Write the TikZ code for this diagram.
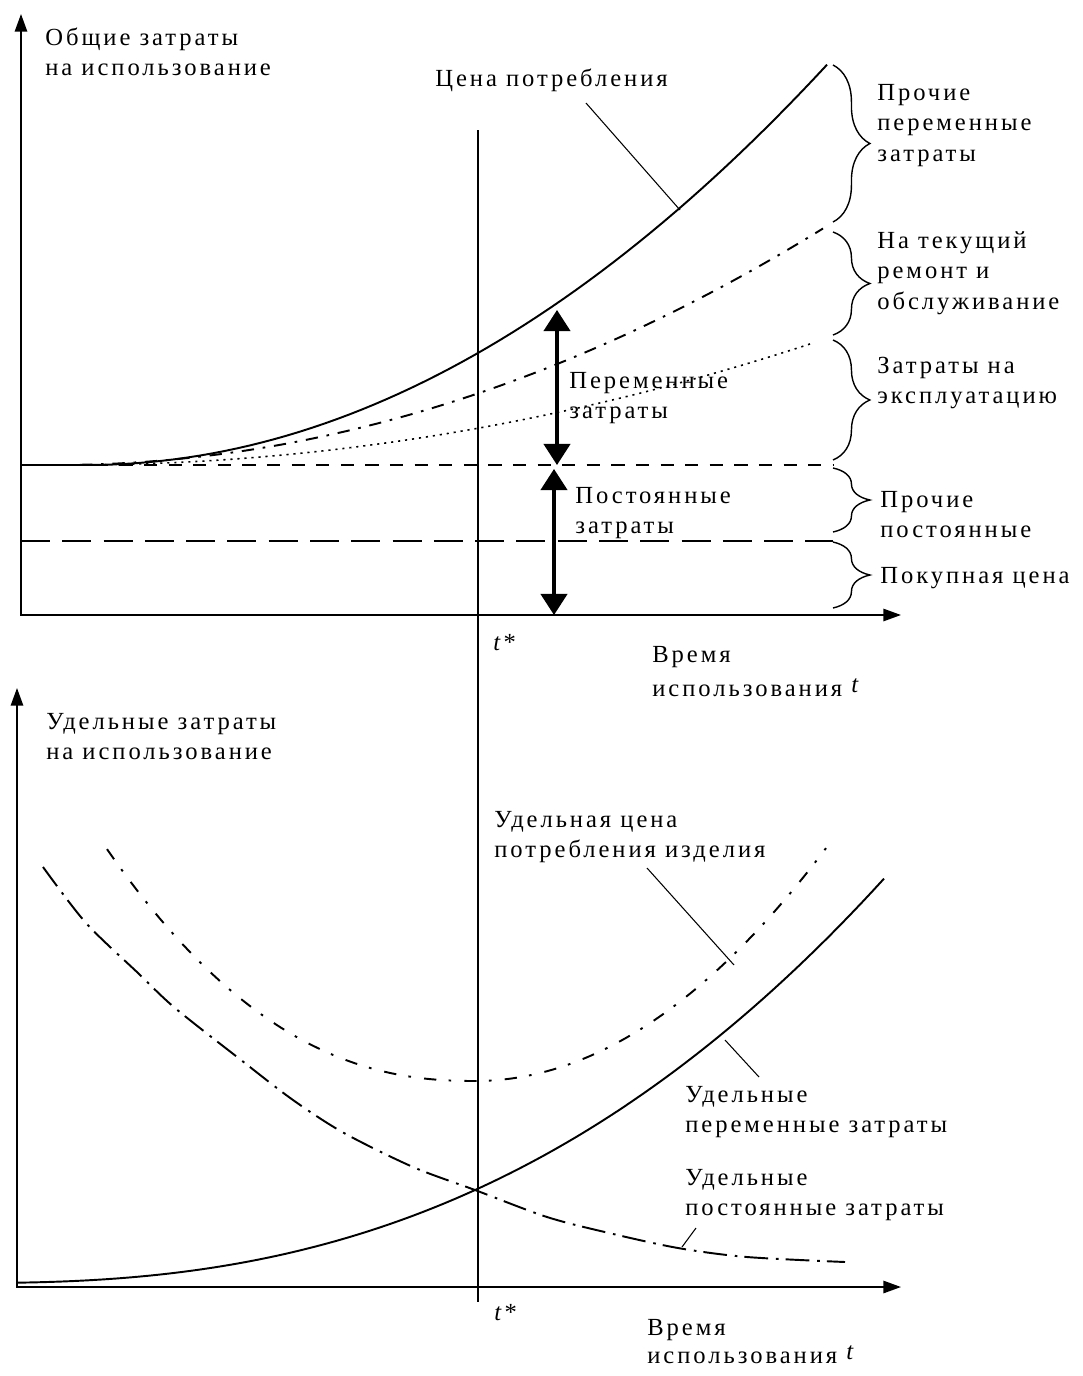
\documentclass[tikz,border=0pt]{standalone}
\usepackage{fontspec}
\setmainfont{Liberation Serif}
\newfontfamily\rusfont[LetterSpace=12]{Liberation Serif}
\usetikzlibrary{arrows.meta,decorations.pathreplacing}

\newcommand{\txtlines}[1]{\begin{tabular}[t]{@{}l@{}}#1\end{tabular}}

\tikzset{
  lbl/.style={font=\rusfont\fontsize{14}{17.6}\selectfont, anchor=base west, inner sep=0pt},
  axisline/.style={line width=1pt, {Triangle[length=10pt,width=7pt]}-{Triangle[length=10pt,width=7pt]}},
  tline/.style={line width=0.9pt},
  costcurve/.style={line width=1.1pt},
  shortdash/.style={line width=0.9pt, dash pattern=on 7.5pt off 6.5pt},
  longdash/.style={line width=0.9pt, dash pattern=on 16.5pt off 7pt},
  remontcurve/.style={line width=1.1pt, dash pattern=on 7pt off 5pt on 1.5pt off 5pt},
  eksplcurve/.style={line width=0.9pt, dash pattern=on 1.2pt off 2.8pt},
  udcenacurve/.style={line width=1.1pt, dash pattern=on 7pt off 7pt on 1.5pt off 7.5pt},
  udfixcurve/.style={line width=1.1pt, dash pattern=on 13.5pt off 4.5pt on 1.5pt off 4pt},
  leader/.style={line width=0.6pt},
  dblarrow/.style={line width=1.8pt, {Triangle[length=12pt,width=15pt]}-{Triangle[length=12pt,width=15pt]}},
  bracedec/.style={line width=0.8pt, decorate, decoration={brace, amplitude=21pt}}
}

\begin{document}
\begin{tikzpicture}[x=0.02cm, y=-0.02cm]
\useasboundingbox (0,0) rectangle (1082,1376);

% upper chart: total costs
\coordinate (Y1) at (21,14);
\coordinate (O1) at (21,615);
\coordinate (X1) at (901,615);
\draw[axisline] (Y1) |- (X1);

\coordinate (Ttop) at (478,130);
\coordinate (Tbot) at (478,1302);
\draw[tline] (Ttop) -- (Tbot);

\draw[shortdash] (21,465) -- (833,465);
\draw[longdash] (21,541) -- (833,541);

\draw[costcurve] (21,465) -- (86,465)
  -- plot[domain=86:827, samples=60] (\x, {465-7.29*((\x-86)/100)^2});
\draw[remontcurve] plot[domain=80:823, samples=60] (\x, {465-4.02*((\x-56)/100)^2});
\draw[eksplcurve] plot[domain=90:813, samples=60] (\x, {465-2.21*((\x-70)/100)^2});

\foreach \ya/\yb in {65/222, 232/335, 340/460, 468/532, 542/608}
  \draw[bracedec] (833,\ya) -- (833,\yb);

\coordinate (varTop) at (557,310);
\coordinate (varBot) at (557,465);
\coordinate (fixTop) at (554,469);
\coordinate (fixBot) at (554,615);
\draw[dblarrow] (varTop) -- (varBot);
\draw[dblarrow] (fixTop) -- (fixBot);

\node[lbl] (ylab1) at (45,45) {\txtlines{Общие затраты\\на использование}};
\node[lbl] (cena) at (435,86) {Цена потребления};
\coordinate (cenaLead) at (586,103);
\coordinate (cenaPt) at (680,210);
\draw[leader] (cenaLead) -- (cenaPt);

\node[lbl] (prvar) at (877,100) {\txtlines{Прочие\\переменные\\затраты}};
\node[lbl] (remont) at (877,248) {\txtlines{На текущий\\ремонт и\\обслуживание}};
\node[lbl] (ekspl) at (877,373) {\txtlines{Затраты на\\эксплуатацию}};
\node[lbl] (prpost) at (880,507) {\txtlines{Прочие\\постоянные}};
\node[lbl] (pokup) at (880,583) {Покупная цена};
\node[lbl] (varlab) at (569,388) {\txtlines{Переменные\\затраты}};
\node[lbl] (fixlab) at (575,503) {\txtlines{Постоянные\\затраты}};
\node[lbl] (tstar1) at (493,650) {\textit{t}*};
\node[lbl] (xlab1) at (652,662) {\txtlines{Время\\[2pt]использования \raisebox{2pt}{\textit{t}}}};

% lower chart: unit costs
\coordinate (Y2) at (17,688);
\coordinate (O2) at (17,1287);
\coordinate (X2) at (901,1287);
\draw[axisline] (Y2) |- (X2);

\draw[udcenacurve] plot[domain=107:475, samples=50] (\x, {1081-11.55*((475.5-\x)/100)^2.3})
  -- plot[domain=475:826, samples=50] (\x, {1081-18.9*((\x-475)/100)^2});
\draw[udfixcurve] plot[smooth] coordinates {(43,867) (86,923) (138,973) (175,1008)
  (241,1060) (293,1100) (344,1133) (413,1167) (475,1190) (547,1217) (609,1233)
  (678,1248) (747,1257) (845,1262)};
\draw[costcurve] plot[domain=17:884, samples=80] (\x, {1283-(0.012*(\x+36))^2.5});

\node[lbl] (ylab2) at (46,729) {\txtlines{Удельные затраты\\на использование}};
\node[lbl] (udcena) at (494,827) {\txtlines{Удельная цена\\потребления изделия}};
\coordinate (udcenaLead) at (647,868);
\coordinate (udcenaPt) at (734,965);
\draw[leader] (udcenaLead) -- (udcenaPt);

\node[lbl] (udvar) at (685,1102) {\txtlines{Удельные\\переменные затраты}};
\coordinate (udvarLead) at (759,1077);
\coordinate (udvarPt) at (725,1040);
\draw[leader] (udvarLead) -- (udvarPt);

\node[lbl] (udfix) at (685,1185) {\txtlines{Удельные\\постоянные затраты}};
\coordinate (udfixLead) at (696,1228);
\coordinate (udfixPt) at (682,1247);
\draw[leader] (udfixLead) -- (udfixPt);

\node[lbl] (tstar2) at (494,1320) {\textit{t}*};
\node[lbl] (xlab2) at (647,1335) {\txtlines{Время\\[-1.5pt]использования \raisebox{2pt}{\textit{t}}}};
\end{tikzpicture}
\end{document}
